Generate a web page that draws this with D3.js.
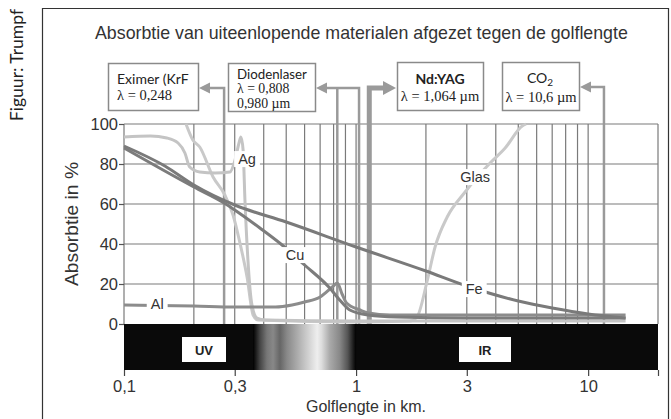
<!DOCTYPE html>
<html><head><meta charset="utf-8">
<script src="https://cdn.jsdelivr.net/npm/d3@7/dist/d3.min.js"></script>
<style>body{margin:0;background:#fff}svg{display:block}</style>
</head><body>
<svg id="c" width="671" height="419"></svg>
<script>
// ---------- data ----------
const xTickValues = [0.1, 0.3, 1, 3, 10];
const xTickLabels = ["0,1", "0,3", "1", "3", "10"];
const yTickValues = [0, 20, 40, 60, 80, 100];
const gridX = [0.1,0.2,0.3,0.4,0.5,0.6,0.7,0.8,0.9,1,2,3,4,5,6,7,8,9,10,20];

const feX = [0.1,0.15,0.2,0.3,0.5,1,2,3,5,7,10,14.5];
const feY = [89,79,69.5,59.5,51,38.5,26.5,19,11.5,8,5,3];

const cuX = [0.1,0.2,0.27,0.3,0.385,0.48,0.6,0.77,0.85,0.94,1.13,1.5,3,14.5];
const cuY = [88,68.5,60.5,57,48,39.5,29.5,18,12,7,4.5,3.5,3,3];

const alX = [0.1,0.2,0.3,0.45,0.53,0.6,0.7,0.79,0.83,0.87,0.91,1.04,1.13,1.4,3,14.5];
const alY = [9.5,9,8.5,8.5,9.5,11,13.5,18.5,20.5,15,10.5,7,5.5,4.5,4.5,4.5];

const agX = [0.1,0.13,0.153,0.171,0.183,0.192,0.212,0.247,0.286,0.301,0.313,0.319,0.326,0.332,0.342,0.356,0.374,0.405,1,14.5];
const agY = [93.5,94,93,90.5,85.5,78.5,76,75.5,76,82,90.5,93.5,87,62,32,9.5,3,2,1.5,1.5];

const glasX = [0.185,0.198,0.212,0.242,0.272,0.295,0.316,0.339,0.36,0.378,1,1.7,1.83,2.02,2.19,2.47,2.95,3.78,4.39,5.2,5.4];
const glasY = [100,92,88.5,73.5,64.5,54.5,40.5,23.5,4.5,2,1,1.5,3.5,21,38.5,53.5,66,80.5,88,99,100];

const curveNames = ["Glas","Ag","Al","Cu","Fe"];
const labelNames = ["Ag","Cu","Al","Fe","Glas"];
const labelAtX   = [0.339,0.546,0.139,3.23,3.26];
const labelAtY   = [82.5,34.5,10,17.5,73.5];

// laser wavelengths as drawn (hand-placed lines in the picture)
const laserNames = ["Eximer","Diode808","Diode980","NdYAG","CO2"];
const laserDrawnX = [0.27,0.83,1.03,1.14,11.7];

// visible spectrum strip (wavelength, grey level)
const spectrumX = [0.36,0.385,0.413,0.439,0.47,0.503,0.556,0.614,0.68,0.71,0.77,0.85,0.92,1.0];
const spectrumGrey = [0,68,119,136,102,136,170,204,238,221,170,136,85,0];

// ---------- drawing ----------
const svg = d3.select("#c");
const SANS = "'Liberation Sans', Arial, sans-serif";
const GILL = "Lato, 'Open Sans', sans-serif";
const SERIF = "'Liberation Serif', 'DejaVu Serif', serif";

function fit(sel, target, maxFs){
  const fs = +sel.attr("font-size");
  const w = sel.node().getComputedTextLength();
  let n = fs*target/w;
  if (maxFs) n = Math.min(n, maxFs);
  sel.attr("font-size", n.toFixed(2));
  return sel;
}

const x = d3.scaleLog().domain([0.1, 20]).range([124, 658]);
const y = d3.scaleLinear().domain([0, 100]).range([324, 124]);
const bandTop = 324, bandBot = 370;

// outer frame
svg.append("path").attr("d","M42.5,419 V8.5 H668.5 V419").attr("fill","none").attr("stroke","#333").attr("stroke-width",1.2);

// credit
svg.append("text").attr("transform","translate(23,65) rotate(-90)")
  .attr("text-anchor","middle").attr("font-family",GILL).attr("font-size",17.5).attr("fill","#222")
  .text("Figuur: Trumpf");

// title
fit(svg.append("text").attr("x",95).attr("y",39).attr("font-family",SANS).attr("font-size",16)
  .attr("fill","#333").text("Absorbtie van uiteenlopende materialen afgezet tegen de golflengte"), 533);

// grid
const grid = svg.append("g").attr("stroke","#7a7a7a").attr("stroke-width",1.2);
grid.selectAll("line.v").data(gridX).join("line")
  .attr("x1",d=>x(d)).attr("x2",d=>x(d)).attr("y1",y(100)).attr("y2",y(0));
grid.selectAll("line.h").data(yTickValues.filter(d=>d>0)).join("line").attr("class","h")
  .attr("x1",x(0.1)).attr("x2",x(20)).attr("y1",d=>y(d)).attr("y2",d=>y(d));

// y axis
const yAxis = svg.append("g").attr("transform",`translate(${x(0.1)},0)`)
  .call(d3.axisLeft(y).tickValues(yTickValues).tickSize(5).tickPadding(1).tickFormat(d3.format("d")));
yAxis.select(".domain").remove();
yAxis.selectAll("line").attr("stroke","#555").attr("stroke-width",1.2);
yAxis.selectAll("text").attr("font-family",SANS).attr("font-size",16.5).attr("fill","#333");

fit(svg.append("text").attr("transform","translate(78,224) rotate(-90)").attr("text-anchor","middle")
  .attr("font-family",SANS).attr("font-size",16).attr("fill","#333").text("Absorbtie in %"), 124);

// spectrum band
const defs = svg.append("defs");
const gx0 = x(spectrumX[0]), gx1 = x(spectrumX[spectrumX.length-1]);
const grad = defs.append("linearGradient").attr("id","spec").attr("gradientUnits","userSpaceOnUse")
  .attr("x1",gx0).attr("x2",gx1).attr("y1",0).attr("y2",0);
grad.selectAll("stop").data(spectrumX).join("stop")
  .attr("offset",d=>(x(d)-gx0)/(gx1-gx0))
  .attr("stop-color",(d,i)=>d3.rgb(spectrumGrey[i],spectrumGrey[i],spectrumGrey[i]).toString());
svg.append("rect").attr("x",x(0.1)).attr("y",bandTop).attr("width",x(20)-x(0.1)).attr("height",bandBot-bandTop).attr("fill","#0a0a0a");
svg.append("rect").attr("x",gx0).attr("y",bandTop).attr("width",gx1-gx0).attr("height",bandBot-bandTop).attr("fill","url(#spec)");

function bandBox(cx, w, label){
  svg.append("rect").attr("x",cx-w/2).attr("y",bandTop+13).attr("width",w).attr("height",25).attr("fill","#fff");
  svg.append("text").attr("x",cx).attr("y",bandTop+31).attr("text-anchor","middle").attr("font-family",SANS)
    .attr("font-weight","bold").attr("font-size",13).attr("fill","#222").text(label);
}
bandBox(204,44,"UV");
bandBox(485,52,"IR");

// x axis
const xAxis = svg.append("g").attr("transform",`translate(0,${bandBot})`)
  .call(d3.axisBottom(x).tickValues([...xTickValues,20]).tickSize(6).tickPadding(4)
    .tickFormat((d,i)=> i<xTickLabels.length ? xTickLabels[i] : ""));
xAxis.select(".domain").remove();
xAxis.selectAll("line").attr("stroke","#444").attr("stroke-width",1.2);
xAxis.selectAll("text").attr("font-family",SANS).attr("font-size",16.5).attr("fill","#333");

svg.append("text").attr("x",366).attr("y",412).attr("text-anchor","middle")
  .attr("font-family",SANS).attr("font-size",16).attr("fill","#333").text("Golflengte in km.");

// laser annotation lines
const ann = svg.append("g").attr("fill","none").attr("stroke","#9a9a9a");
const arrowY = 88;
function head(tipX, ty, dir, len, half){
  svg.append("path").attr("d",`M${tipX},${ty} L${tipX+dir*len},${ty-half} L${tipX+dir*len},${ty+half} Z`)
    .attr("fill","#9a9a9a");
}
// Eximer
ann.append("path").attr("d",`M${x(laserDrawnX[0])},${y(0)} V${arrowY} H${208}`).attr("stroke-width",2.5);
head(199,arrowY,1,11,5.5);
// Diode
ann.append("path").attr("d",`M${x(laserDrawnX[1])},${y(0)} V${arrowY}`).attr("stroke-width",2.5);
ann.append("path").attr("d",`M${x(laserDrawnX[2])},${y(0)} V${arrowY} H${325}`).attr("stroke-width",2.5);
head(316,arrowY,1,11,5.5);
// Nd:YAG
ann.append("path").attr("d",`M${x(laserDrawnX[3])},${y(0)} V${arrowY} H${384}`).attr("stroke-width",5);
head(396,arrowY,-1,13,7);
// CO2
ann.append("path").attr("d",`M${x(laserDrawnX[4])},${y(0)} V${arrowY-1} H${590}`).attr("stroke-width",2.5);
head(580,arrowY-1,1,11,5.5);

// boxes
function box(x0,y0,w,h){
  svg.append("rect").attr("x",x0).attr("y",y0).attr("width",w).attr("height",h)
    .attr("fill","#fff").attr("stroke","#8a8a8a").attr("stroke-width",1.5);
}
function txt(xx,yy,font,fs,s,anchor,weight){
  return svg.append("text").attr("x",xx).attr("y",yy).attr("font-family",font).attr("font-size",fs)
    .attr("fill","#222").attr("text-anchor",anchor||"start").attr("font-weight",weight||"normal").text(s);
}
box(108.5,63.5,90,47);
fit(txt(117,84,GILL,14,"Eximer (KrF"), 73, 14);
txt(117,100,SERIF,14.5,"λ = 0,248");

box(228.5,63.5,87,48);
fit(txt(237,79,GILL,14,"Diodenlaser"), 70, 14);
txt(237,93,SERIF,13.8,"λ = 0,808");
txt(237,107.5,SERIF,13.8,"0,980 µm");

box(397.5,62.5,86,48);
txt(440,84,GILL,14,"Nd:YAG","middle","bold");
txt(440,100.5,SERIF,14.5,"λ = 1,064 µm","middle");

box(502.5,62.5,77,48);
const co = txt(540,83,GILL,14,"","middle");
co.append("tspan").text("CO");
co.append("tspan").attr("dy",3).attr("font-size",10).text("2");
txt(541,101.5,SERIF,14.5,"λ = 10,6 µm","middle");

// curves
const series = {
  Glas:{x:glasX,y:glasY,c:"#c9c9c9",w:3},
  Ag:{x:agX,y:agY,c:"#c4c4c4",w:3},
  Al:{x:alX,y:alY,c:"#8c8c8c",w:3},
  Cu:{x:cuX,y:cuY,c:"#7c7c7c",w:3},
  Fe:{x:feX,y:feY,c:"#7a7a7a",w:3}
};
const line = d3.line().x(d=>x(d[0])).y(d=>y(d[1])).curve(d3.curveMonotoneX);
curveNames.forEach(n=>{
  const s = series[n];
  svg.append("path").datum(s.x.map((v,i)=>[v,s.y[i]])).attr("d",line)
    .attr("fill","none").attr("stroke",s.c).attr("stroke-width",s.w).attr("stroke-linejoin","round");
});

// curve labels with white gaps
labelNames.forEach((n,i)=>{
  const g = svg.append("g");
  const t = g.append("text").attr("x",x(labelAtX[i])).attr("y",y(labelAtY[i])).attr("dy","0.35em")
    .attr("text-anchor","middle").attr("font-family",SANS).attr("font-size",14.5).attr("fill","#333").text(n);
  const b = t.node().getBBox();
  g.insert("rect","text").attr("x",b.x-4).attr("y",b.y).attr("width",b.width+8).attr("height",b.height).attr("fill","#fff");
});
</script>
</body></html>
